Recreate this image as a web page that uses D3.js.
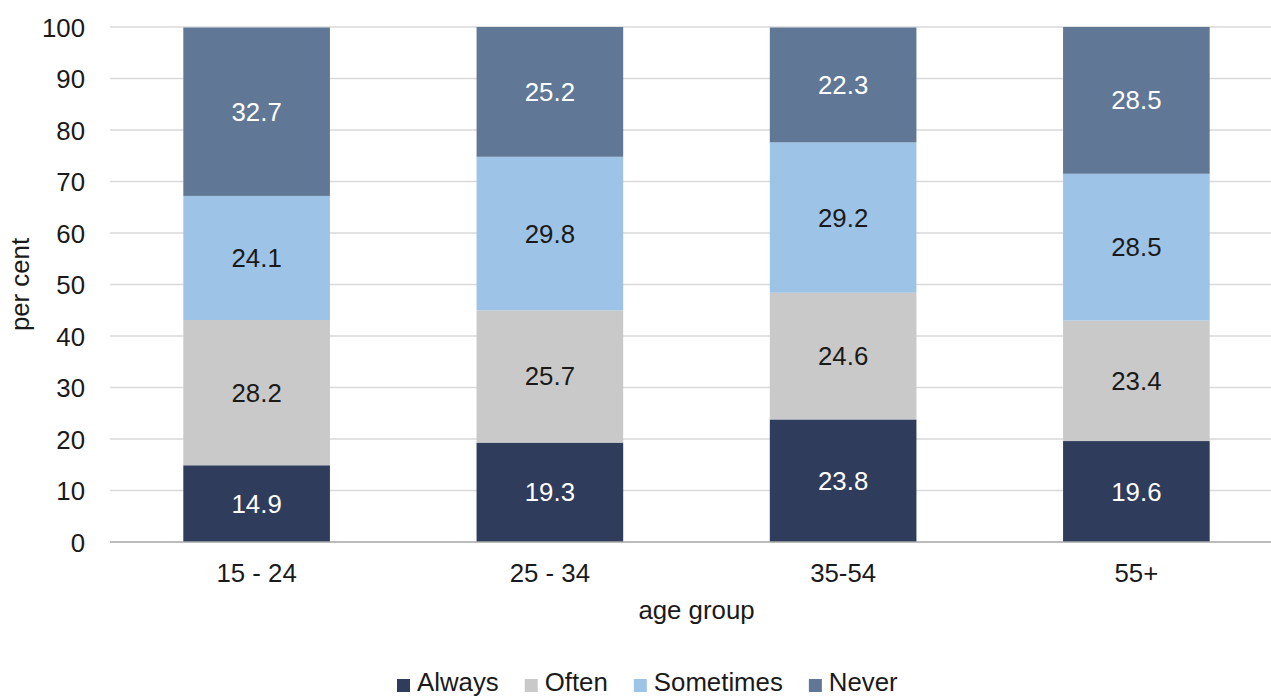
<!DOCTYPE html>
<html>
<head>
<meta charset="utf-8">
<script src="https://cdn.jsdelivr.net/npm/d3@7/dist/d3.min.js"></script>
<style>
  html, body { margin: 0; padding: 0; background: #ffffff; }
  svg { display: block; font-family: "Liberation Sans", Arial, sans-serif; }
</style>
</head>
<body>
<svg id="chart" width="1271" height="698"></svg>
<script>
// Age groups on the x axis
const categories = ["15 - 24", "25 - 34", "35-54", "55+"];

// Share of respondents (per cent) by response, one value per age group
const always    = [14.9, 19.3, 23.8, 19.6];
const often     = [28.2, 25.7, 24.6, 23.4];
const sometimes = [24.1, 29.8, 29.2, 28.5];
const never     = [32.7, 25.2, 22.3, 28.5];

const seriesNames = ["Always", "Often", "Sometimes", "Never"];
const seriesValues = [always, often, sometimes, never];
const yTicks = [0, 10, 20, 30, 40, 50, 60, 70, 80, 90, 100];

const colors = {
  Always: "#2f3c5b",
  Often: "#c9c9c9",
  Sometimes: "#9dc3e6",
  Never: "#607896"
};
const labelColors = {
  Always: "#ffffff",
  Often: "#1a1a1a",
  Sometimes: "#1a1a1a",
  Never: "#ffffff"
};

const FONT = 25.8;
const svg = d3.select("#chart");

const plot = { left: 110, right: 1283, top: 27, bottom: 542 };

const x = d3.scaleBand()
  .domain(categories)
  .range([plot.left, plot.right])
  .paddingInner(0.5)
  .paddingOuter(0.25);

const y = d3.scaleLinear()
  .domain([0, 100])
  .range([plot.bottom, plot.top]);

// Build stacked rows from the series arrays
const rows = categories.map((c, i) => {
  const r = { category: c };
  seriesNames.forEach((s, k) => { r[s] = seriesValues[k][i]; });
  return r;
});
const stacked = d3.stack().keys(seriesNames)(rows);

// Horizontal gridlines
svg.append("g")
  .selectAll("line")
  .data(yTicks.filter(t => t > 0))
  .join("line")
  .attr("x1", plot.left)
  .attr("x2", 1271)
  .attr("y1", d => y(d))
  .attr("y2", d => y(d))
  .attr("stroke", "#d9d9d9")
  .attr("stroke-width", 1.5);

// Y axis tick labels
const yAxis = d3.axisLeft(y).tickValues(yTicks).tickSize(0).tickPadding(0);
const gy = svg.append("g")
  .attr("transform", `translate(${plot.left - 25},0)`)
  .call(yAxis);
gy.select(".domain").remove();
gy.selectAll("text")
  .attr("font-size", FONT)
  .attr("font-family", "Liberation Sans, Arial, sans-serif")
  .attr("fill", "#1a1a1a")
  .attr("dy", "0.35em");

// Stacked bars
const layers = svg.append("g")
  .selectAll("g")
  .data(stacked)
  .join("g")
  .attr("fill", d => colors[d.key]);

layers.selectAll("rect")
  .data(d => d.map(p => ({ key: d.key, p })))
  .join("rect")
  .attr("x", d => x(d.p.data.category))
  .attr("width", x.bandwidth())
  .attr("y", d => y(d.p[1]))
  .attr("height", d => y(d.p[0]) - y(d.p[1]));

// Segment value labels
const labels = svg.append("g");
stacked.forEach(layer => {
  layer.forEach(p => {
    labels.append("text")
      .attr("x", x(p.data.category) + x.bandwidth() / 2)
      .attr("y", y((p[0] + p[1]) / 2))
      .attr("dy", "0.35em")
      .attr("text-anchor", "middle")
      .attr("font-size", FONT)
      .attr("fill", labelColors[layer.key])
      .text(p.data[layer.key].toFixed(1));
  });
});

// X axis category labels
const xAxis = d3.axisBottom(x).tickSize(0).tickPadding(0);
const gx = svg.append("g")
  .attr("transform", `translate(0,${plot.bottom})`)
  .call(xAxis);
gx.select(".domain").remove();
gx.selectAll("text")
  .attr("font-size", FONT)
  .attr("font-family", "Liberation Sans, Arial, sans-serif")
  .attr("fill", "#1a1a1a")
  .attr("dy", null)
  .attr("y", 40);

// X axis baseline
svg.append("line")
  .attr("x1", plot.left)
  .attr("x2", 1271)
  .attr("y1", plot.bottom)
  .attr("y2", plot.bottom)
  .attr("stroke", "#a6a6a6")
  .attr("stroke-width", 1.5);

// Axis titles
svg.append("text")
  .attr("x", (plot.left + plot.right) / 2)
  .attr("y", 619)
  .attr("text-anchor", "middle")
  .attr("font-size", FONT)
  .attr("fill", "#1a1a1a")
  .text("age group");

svg.append("text")
  .attr("transform", `translate(29,${(plot.top + plot.bottom) / 2}) rotate(-90)`)
  .attr("text-anchor", "middle")
  .attr("font-size", FONT)
  .attr("fill", "#1a1a1a")
  .text("per cent");

// Legend
const legend = svg.append("g");
let lx = 397;
seriesNames.forEach(name => {
  legend.append("rect")
    .attr("x", lx)
    .attr("y", 679)
    .attr("width", 13)
    .attr("height", 13)
    .attr("fill", colors[name]);
  const t = legend.append("text")
    .attr("x", lx + 20)
    .attr("y", 691)
    .attr("font-size", FONT)
    .attr("fill", "#1a1a1a")
    .text(name);
  lx += 20 + t.node().getComputedTextLength() + 26;
});
</script>
</body>
</html>
